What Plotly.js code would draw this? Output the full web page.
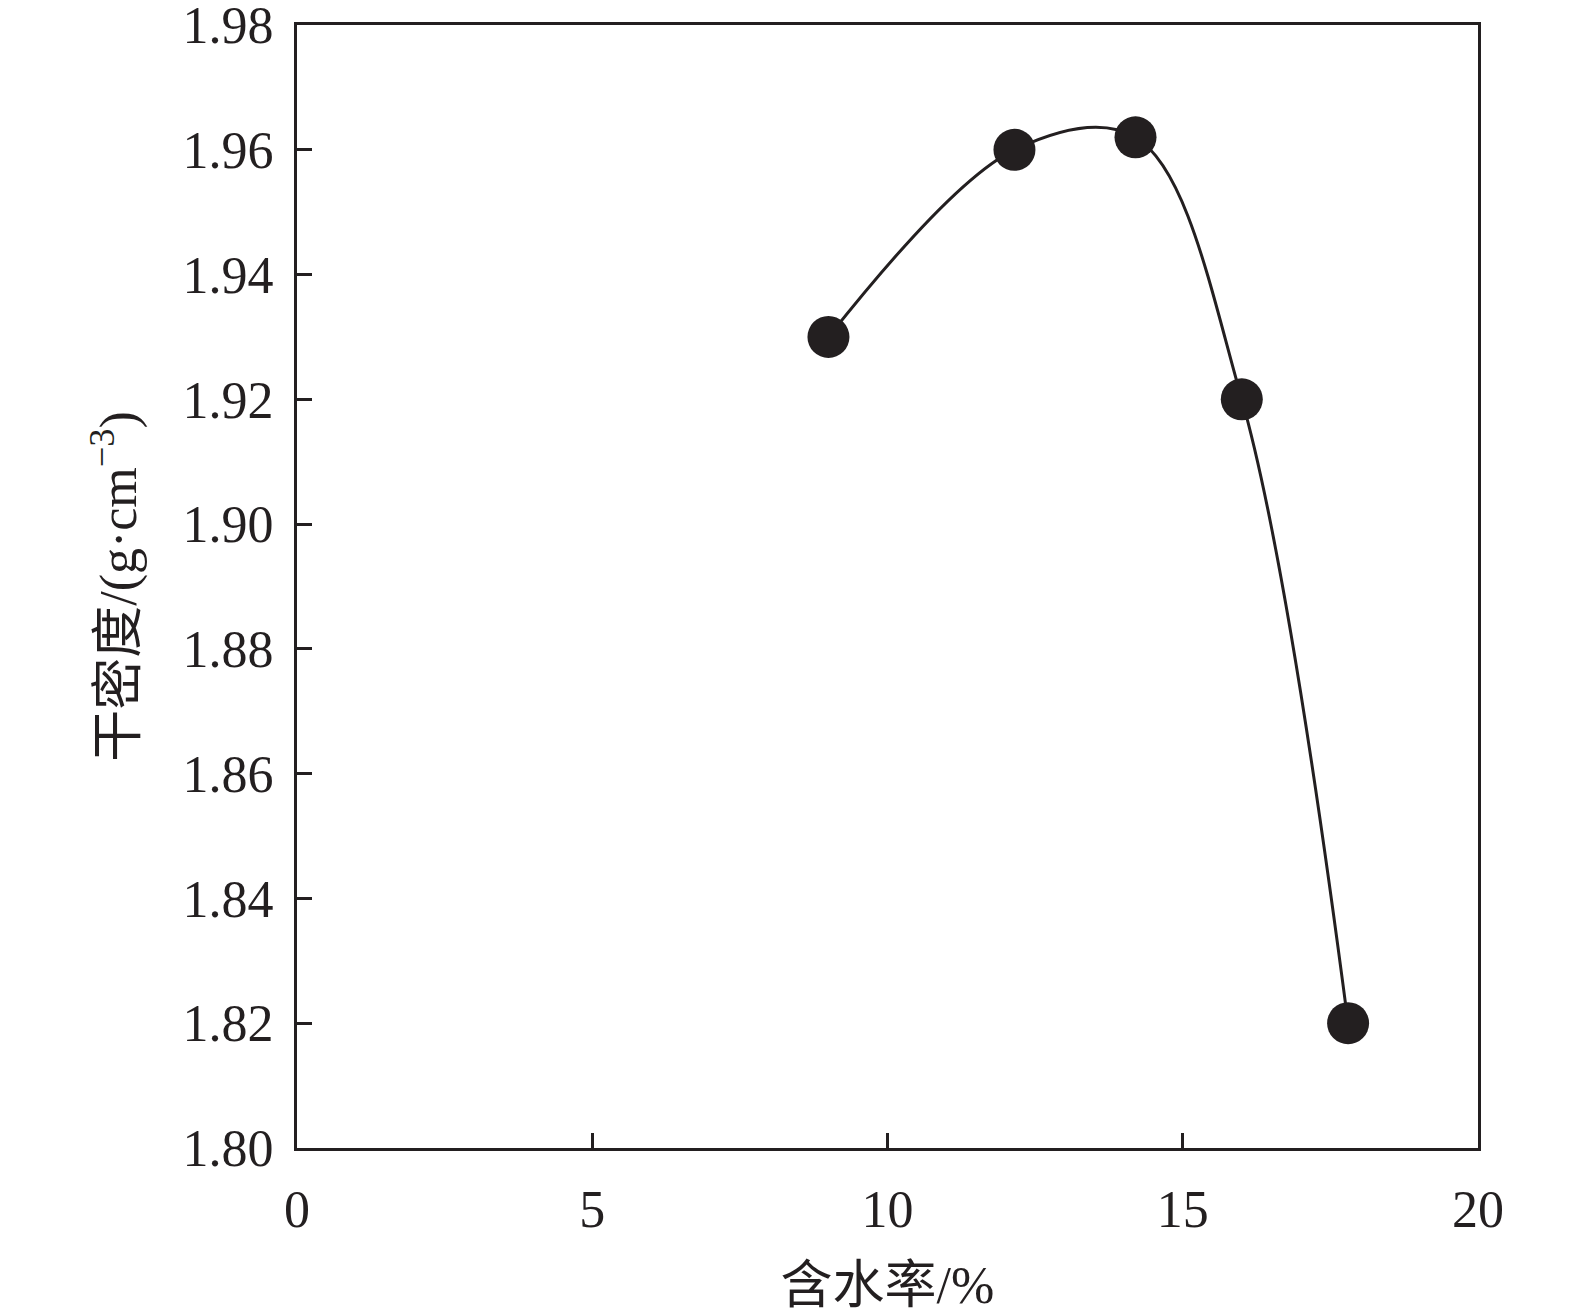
<!DOCTYPE html>
<html>
<head>
<meta charset="utf-8">
<script src="https://cdn.plot.ly/plotly-3.0.1.min.js"></script>
<style>
  body { margin: 0; background: #fff; }
  #plot { width: 1575px; height: 1316px; }
</style>
</head>
<body>
<div id="plot"></div>
<script>
// water content (%) and dry density (g/cm3)
const waterContent = [9.0, 12.15, 14.2, 16.0, 17.8];
const dryDensity = [1.930, 1.960, 1.962, 1.920, 1.820];

const xTicks = [0, 5, 10, 15, 20];
const yTicks = [1.80, 1.82, 1.84, 1.86, 1.88, 1.90, 1.92, 1.94, 1.96, 1.98];

const ink = "#231f20";
const fontFamily = "'Liberation Serif', 'Times New Roman', 'Noto Sans CJK SC', serif";

const data = [{
  x: waterContent,
  y: dryDensity,
  mode: "lines+markers",
  type: "scatter",
  line: { color: ink, width: 3, shape: "spline", smoothing: 1 },
  marker: { color: ink, size: 42 },
  hoverinfo: "x+y"
}];

// shared axis styling
function axisStyle() {
  return {
    ticks: "inside",
    ticklen: 15,
    tickwidth: 3,
    tickcolor: ink,
    showline: true,
    linewidth: 3,
    linecolor: ink,
    mirror: true,
    showgrid: false,
    zeroline: false,
    ticklabeloverflow: "allow",
    tickfont: { family: fontFamily, size: 52, color: ink },
    automargin: false
  };
}

const xaxis = axisStyle();
xaxis.range = [0, 20];
xaxis.tickvals = xTicks;
xaxis.ticktext = xTicks.map(String);
xaxis.ticklabelstandoff = 14;
xaxis.title = { text: "含水率/%", font: { family: fontFamily, size: 52, color: ink }, standoff: 30 };

const yaxis = axisStyle();
yaxis.range = [1.80, 1.98];
yaxis.tickvals = yTicks;
yaxis.ticktext = yTicks.map(v => v.toFixed(2));
yaxis.ticklabelstandoff = 10;
yaxis.title = { text: "干密度/(g·cm<sup>−3</sup>)", font: { family: fontFamily, size: 52, color: ink }, standoff: 30 };

const layout = {
  width: 1575,
  height: 1316,
  margin: { l: 297, r: 97, t: 25, b: 168 },
  paper_bgcolor: "#fff",
  plot_bgcolor: "#fff",
  showlegend: false,
  font: { family: fontFamily, color: ink, size: 52 },
  xaxis: xaxis,
  yaxis: yaxis
};

Plotly.newPlot(document.getElementById("plot"), data, layout, { displayModeBar: false, staticPlot: true });
</script>
</body>
</html>
